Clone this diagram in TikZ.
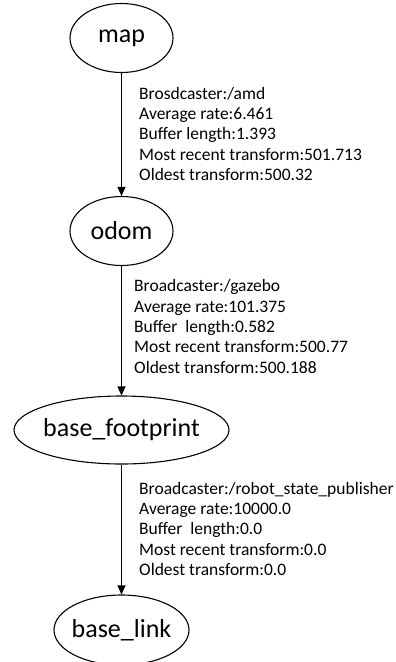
\documentclass[tikz,border=0pt]{standalone}
\usepackage{fontspec}
\setmainfont{Carlito}
\usetikzlibrary{shapes.geometric,arrows.meta}
\begin{document}
\begin{tikzpicture}[x=1pt,y=-1pt,
  frame/.style={draw, line width=1.1pt, ellipse, inner sep=0pt,
    font=\fontsize{26}{30}\selectfont},
  info/.style={anchor=north west, inner sep=0pt, align=left,
    font=\fontsize{17.5}{20.3}\selectfont},
  tf/.style={line width=1.1pt, -{Triangle[length=9pt,width=8pt]}}]
\useasboundingbox (0,0) rectangle (396,662);
% coordinate frames of the tf tree (fixed ellipse sizes)
\node[frame, minimum width=103pt, minimum height=69pt] (map) at (121.5,38) {\makebox[0pt]{map}};
\node[frame, minimum width=103pt, minimum height=69pt] (odom) at (121.5,231) {\makebox[0pt]{odom}};
\node[frame, minimum width=215pt, minimum height=68pt] (fp) at (121.5,430) {\makebox[0pt]{base\_footprint}};
\node[frame, minimum width=135pt, minimum height=70pt] (link) at (121.5,630) {\makebox[0pt]{base\_link}};
% transforms between frames
\draw[tf] (map) -- (odom);
\draw[tf] (odom) -- (fp);
\draw[tf] (fp) -- (link);
% broadcaster statistics
\node[info] (i1) at (139,87) {Brosdcaster:/amd\\Average rate:6.461\\Buffer length:1.393\\Most recent transform:501.713\\Oldest transform:500.32};
\node[info] (i2) at (134,279.5) {Broadcaster:/gazebo\\Average rate:101.375\\Buffer\ \ length:0.582\\Most recent transform:500.77\\Oldest transform:500.188};
\node[info] (i3) at (139,482) {Broadcaster:/robot\_state\_publisher\\Average rate:10000.0\\Buffer\ \ length:0.0\\Most recent transform:0.0\\Oldest transform:0.0};
\end{tikzpicture}
\end{document}
